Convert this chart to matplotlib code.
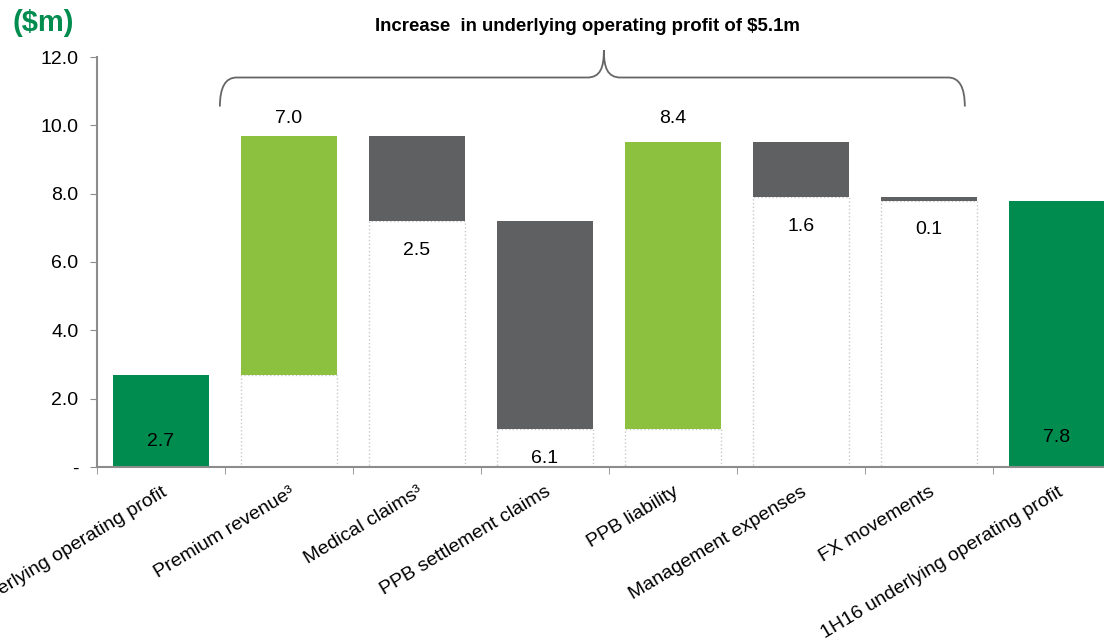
import matplotlib.pyplot as plt
from matplotlib.path import Path
from matplotlib.patches import PathPatch
import numpy as np

plt.rcParams["font.family"] = ["Liberation Sans", "DejaVu Sans"]

# Bridge from 1H15 to 1H16 underlying operating profit ($m)
categories = ["1H15 underlying operating profit", "Premium revenue³", "Medical claims³",
              "PPB settlement claims", "PPB liability", "Management expenses",
              "FX movements", "1H16 underlying operating profit"]
start_value = 2.7
changes = [7.0, -2.5, -6.1, 8.4, -1.6, -0.1]
end_value = 7.8
yticks = [0, 2, 4, 6, 8, 10, 12]
ytick_labels = ["-", "2.0", "4.0", "6.0", "8.0", "10.0", "12.0"]

DARK_GREEN = "#008C4E"
LIGHT_GREEN = "#8BC13F"
GREY = "#5F6062"
AXIS_GREY = "#8C8C8C"

fig = plt.figure(figsize=(11.04, 6.4), dpi=100)
ax = fig.add_axes([97 / 1104, 173 / 640, 1024 / 1104, 410 / 640])

x = np.arange(len(categories))
w = 0.75

# opening and closing totals
ax.bar(x[0], start_value, w, color=DARK_GREEN)
ax.bar(x[-1], end_value, w, color=DARK_GREEN)
ax.text(x[0], 0.75, f"{start_value:.1f}", ha="center", va="center", fontsize=14)
ax.text(x[-1], 0.85, f"{end_value:.1f}", ha="center", va="center", fontsize=14)

# floating movements sitting on a dotted, unfilled base
level = start_value
for i, d in enumerate(changes, start=1):
    low = min(level, level + d)
    ax.bar(x[i], low, w, color="white", edgecolor="#C8C8C8", linestyle=":", linewidth=1)
    if d > 0:
        ax.bar(x[i], d, w, bottom=level, color=LIGHT_GREEN)
        ax.text(x[i], 10.2, f"{d:.1f}", ha="center", va="center", fontsize=14)
    else:
        ax.bar(x[i], -d, w, bottom=level + d, color=GREY)
        ax.annotate(f"{-d:.1f}", (x[i], low), xytext=(0, -15), textcoords="offset points",
                    ha="center", va="top", fontsize=14)
    level += d

ax.set_xlim(-0.5, len(categories) - 0.5)
ax.set_ylim(0, 12)
ax.set_yticks(yticks)
ax.set_yticklabels(ytick_labels, fontsize=14)
ax.set_xticks(x)
ax.set_xticklabels(categories, fontsize=14, rotation=31, ha="right", rotation_mode="anchor")
ax.set_xticks(np.arange(len(categories) + 1) - 0.5, minor=True)
ax.tick_params(axis="x", which="major", length=0, pad=12)
ax.tick_params(axis="x", which="minor", length=5, color=AXIS_GREY, direction="out")
ax.tick_params(axis="y", length=5, color=AXIS_GREY, direction="out", pad=8.5)
for s in ["top", "right"]:
    ax.spines[s].set_visible(False)
for s in ["left", "bottom"]:
    ax.spines[s].set_color(AXIS_GREY)
    ax.spines[s].set_linewidth(1.5)

# curly brace over the movements
xl, xr, xm = 0.46, 6.28, 3.46
yb, yh, yt = 10.55, 11.4, 12.2
cx = 0.13
verts = [(xl, yb), (xl, yh), (xl + cx, yh),
         (xm - cx, yh), (xm - cx * 0.2, yh), (xm, yh + 0.3), (xm, yt),
         (xm, yh + 0.3), (xm + cx * 0.2, yh), (xm + cx, yh),
         (xr - cx, yh), (xr, yh), (xr, yb)]
codes = [Path.MOVETO, Path.CURVE3, Path.CURVE3,
         Path.LINETO, Path.CURVE4, Path.CURVE4, Path.CURVE4,
         Path.CURVE4, Path.CURVE4, Path.CURVE4,
         Path.LINETO, Path.CURVE3, Path.CURVE3]
ax.add_patch(PathPatch(Path(verts, codes), facecolor="none", edgecolor="#666666",
                       linewidth=1.3, clip_on=False))

ax.text(3.33, 12.88, "Increase  in underlying operating profit of $5.1m", ha="center",
        va="center", fontsize=13.4, fontweight="bold", clip_on=False)
fig.text(12 / 1104, 1 - 23 / 640, "($m)", color=DARK_GREEN, fontsize=21, fontweight="bold",
         ha="left", va="center")

fig.savefig("out.png", dpi=100)
